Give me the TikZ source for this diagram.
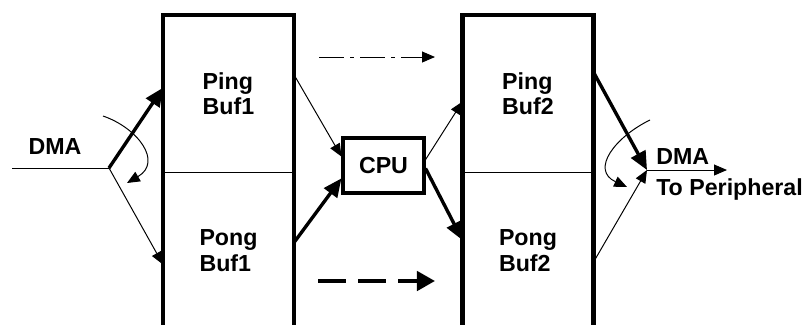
\documentclass[tikz,border=0pt]{standalone}
\usepackage{fontspec}
\setmainfont{Liberation Sans}
\usetikzlibrary{arrows.meta, positioning}

\begin{document}
\begin{tikzpicture}[
    x=0.025cm, y=-0.025cm,
    every node/.style={font=\fontsize{16.5}{18}\selectfont\bfseries},
    buffer/.style={rectangle, draw, line width=0.7pt, minimum width=3.275cm, minimum height=3.925cm, inner sep=0pt, outer sep=0pt, align=left},
    frame/.style={line width=2.9pt, line join=miter},
    proc/.style={rectangle, draw, line width=2.2pt, minimum width=2.025cm, minimum height=1.375cm, inner sep=0pt},
    flow/.style={-{Triangle[length=3.2mm, width=2.7mm]}, line width=0.7pt},
    mainflow/.style={-{Triangle[length=4.6mm, width=4mm]}, line width=2.4pt},
    pingpath/.style={flow, dash pattern=on 17.8pt off 4.3pt on 2.8pt off 4.3pt},
    pongpath/.style={-{Triangle[length=4.5mm, width=4.8mm]}, line width=2.8pt, dash pattern=on 20pt off 8.5pt}
]
    \clip (0,0) rectangle (804,324);

    \node[buffer] (ping1) at (228.5,93.5) {Ping\\Buf1};
    \node[buffer, below=0pt of ping1] (pong1) {Pong\\Buf1};
    \node[buffer] (ping2) at (528,93.5) {Ping\\Buf2};
    \node[buffer, below=0pt of ping2] (pong2) {Pong\\Buf2};
    \draw[frame] (pong1.south west) |- (ping1.north) -| (pong1.south east);
    \draw[frame] (pong2.south west) |- (ping2.north) -| (pong2.south east);

    \node[proc] (cpu) at (383.5,165.5) {CPU};

    \node (dmain) at (55,147) {DMA};
    \node[anchor=west, inner sep=0pt] (dmaout) at (656,157) {DMA};
    \node[anchor=west, inner sep=0pt] (periph) at (656,189) {To Peripheral};

    \coordinate (dmasrc) at (12,168);
    \coordinate (split) at (109,168);
    \coordinate (join) at (647,170);
    \coordinate (dmadst) at (727,170);

    \draw[line width=0.7pt] (dmasrc) -- (split);
    \draw[mainflow] (split) -- (ping1.175);
    \draw[flow] (split) -- (pong1.192);

    \draw[flow] (ping1.16) -- (cpu.168);
    \draw[mainflow] (pong1.7) -- (cpu.197);
    \draw[flow] (cpu.8) -- (ping2.187);
    \draw[mainflow] (cpu.-4) -- (pong2.171);

    \draw[mainflow] (ping2.18) -- (join);
    \draw[flow] (pong2.-10) -- (join);
    \draw[flow] (join) -- (dmadst);

    \coordinate (swapin) at (103,116);
    \coordinate (swapinend) at (127,183);
    \draw[flow] (swapin) .. controls (138,128) and (163,162) .. (swapinend);
    \coordinate (swapout) at (650,120);
    \coordinate (swapoutend) at (627,187);
    \draw[flow] (swapout) .. controls (615,137) and (590,170) .. (swapoutend);

    \coordinate (pingfrom) at (319,57);
    \coordinate (pingto) at (435,57);
    \draw[pingpath] (pingfrom) -- (pingto);
    \coordinate (pongfrom) at (318,281);
    \coordinate (pongto) at (435,281);
    \draw[pongpath] (pongfrom) -- (pongto);
\end{tikzpicture}
\end{document}
